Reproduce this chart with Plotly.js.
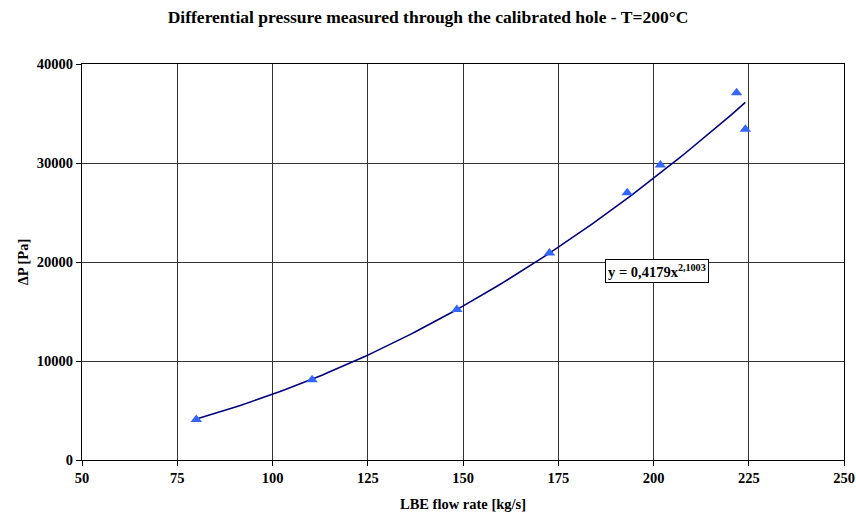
<!DOCTYPE html>
<html>
<head>
<meta charset="utf-8">
<script src="https://cdn.plot.ly/plotly-3.0.1.min.js"></script>
<style>
  html, body { margin: 0; padding: 0; background: #fff; }
  #chart { width: 856px; height: 514px; }
</style>
</head>
<body>
<div id="chart"></div>
<script>
// Measured LBE flow rate [kg/s] and differential pressure [Pa]
const flowRate = [80, 110.4, 148.4, 172.7, 193.1, 201.8, 221.8, 224.1];
const deltaP   = [4100, 8100, 15200, 20900, 27000, 29800, 37100, 33400];

// Axis ticks
const xTicks = [50, 75, 100, 125, 150, 175, 200, 225, 250];
const yTicks = [0, 10000, 20000, 30000, 40000];

// Power-law fit y = a * x^b
const fitA = 0.4179;
const fitB = 2.1003;
const fitLabel = 'y = 0,4179x<sup>2,1003</sup>';

// Sample the fitted curve across the measured range
const fitX = [];
const fitY = [];
const xMin = Math.min(...flowRate), xMax = Math.max(...flowRate);
for (let i = 0; i <= 100; i++) {
  const x = xMin + (xMax - xMin) * i / 100;
  fitX.push(x);
  fitY.push(fitA * Math.pow(x, fitB));
}

const font = { family: '"Liberation Serif", "Times New Roman", serif', color: '#000' };

const traces = [
  {
    x: fitX, y: fitY, type: 'scatter', mode: 'lines',
    line: { color: '#000080', width: 1.6 },
    hoverinfo: 'skip', showlegend: false
  },
  {
    x: flowRate, y: deltaP, type: 'scatter', mode: 'markers',
    marker: { symbol: 'triangle-up', size: 10, color: '#3366FF' },
    showlegend: false
  }
];

const layout = {
  width: 856, height: 514,
  margin: { l: 82, r: 12, t: 64, b: 54 },
  paper_bgcolor: '#fff', plot_bgcolor: '#fff',
  font: font,
  title: {
    text: '<b>Differential pressure measured through the calibrated hole - T=200°C</b>',
    font: Object.assign({}, font, { size: 17.5 }),
    x: 0.5, xanchor: 'center', y: 0.967, yanchor: 'middle'
  },
  xaxis: {
    range: [50, 250], tickvals: xTicks, ticktext: xTicks.map(String),
    tickfont: Object.assign({}, font, { size: 14.5, weight: 'bold' }),
    showgrid: true, gridcolor: '#333', gridwidth: 1,
    showline: true, linecolor: '#000', linewidth: 1, mirror: true,
    ticks: 'outside', ticklen: 5, tickcolor: '#000',
    zeroline: false,
    title: { text: '<b>LBE flow rate [kg/s]</b>', font: Object.assign({}, font, { size: 14.5 }), standoff: 13 }
  },
  yaxis: {
    range: [0, 40000], tickvals: yTicks, ticktext: yTicks.map(String),
    tickfont: Object.assign({}, font, { size: 14.5, weight: 'bold' }),
    showgrid: true, gridcolor: '#333', gridwidth: 1,
    showline: true, linecolor: '#000', linewidth: 1, mirror: true,
    ticks: 'outside', ticklen: 5, tickcolor: '#000',
    zeroline: false,
    title: { text: '<b>ΔP [Pa]</b>', font: Object.assign({}, font, { size: 14.5 }), standoff: 4 }
  },
  annotations: [{
    x: 200.9, y: 19100, xref: 'x', yref: 'y',
    text: '<b>' + fitLabel + '</b>', showarrow: false,
    font: Object.assign({}, font, { size: 14.5 }),
    bgcolor: '#fff', bordercolor: '#000', borderwidth: 1, borderpad: 2
  }]
};

Plotly.newPlot('chart', traces, layout, { displayModeBar: false, staticPlot: true });
</script>
</body>
</html>
